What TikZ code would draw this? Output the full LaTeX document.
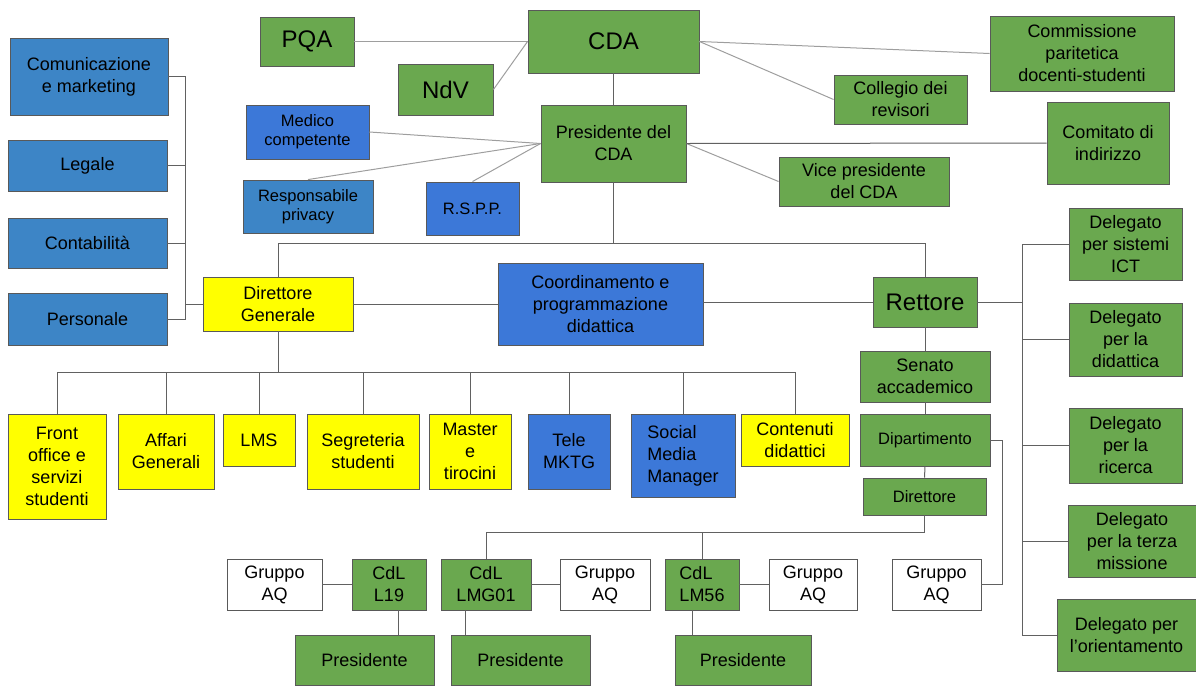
\documentclass[tikz,border=0pt]{standalone}
\usepackage{fontspec}
\setmainfont{Liberation Sans}
\definecolor{cverde}{HTML}{6AA84F}
\definecolor{cblu}{HTML}{3D85C6}
\definecolor{cblus}{HTML}{3C78D8}
\definecolor{cgiallo}{HTML}{FFFF00}

\begin{document}
\begin{tikzpicture}[x=1pt, y=-1pt,
    sz/.style 2 args={minimum width=#1pt, minimum height=#2pt},
    nbox/.style={draw=black!65, line width=0.9pt, inner sep=0pt, align=center,
        font=\fontsize{18}{22}\selectfont},
    gbox/.style={nbox, fill=cverde},
    bbox/.style={nbox, fill=cblu},
    dbox/.style={nbox, fill=cblus},
    ybox/.style={nbox, fill=cgiallo},
    wbox/.style={nbox, fill=white},
    bigtext/.style={font=\fontsize{24}{28}\selectfont},
    smalltext/.style={font=\fontsize{16.5}{19}\selectfont},
    conn/.style={draw=black!62, line width=1pt},
    soft/.style={draw=black!38, line width=1pt}]
    \useasboundingbox (0,0) rectangle (1196,686);

    % vertici
    \node[gbox, bigtext, sz={94}{49}] (pqa) at (307,41.5) {PQA};
    \node[gbox, bigtext, sz={171}{63}] (cda) at (613.5,41.5) {CDA};
    \node[gbox, bigtext, sz={95}{51}] (ndv) at (445.5,89.5) {NdV};
    \node[gbox, sz={184}{75}] (cpds) at (1082,53.5) {Commissione\\paritetica\\docenti-studenti};
    \node[gbox, sz={133}{49}] (revisori) at (900.5,99.5) {Collegio dei\\revisori};
    \node[dbox, smalltext, sz={123}{54}] (medico) at (307.5,132) {Medico\\competente};
    \node[gbox, sz={145}{77}] (pres) at (613.5,143.5) {Presidente del\\CDA};
    \node[gbox, sz={122}{82}] (comitato) at (1108,143) {Comitato di\\indirizzo};
    \node[bbox, smalltext, sz={130}{53}] (privacy) at (308,206.5) {Responsabile\\privacy};
    \node[dbox, smalltext, sz={93}{53}] (rspp) at (472.5,208.5) {R.S.P.P.};
    \node[gbox, sz={170}{49}] (vice) at (864,181.5) {Vice presidente\\del CDA};

    % colonna sinistra
    \node[bbox, sz={158}{77}] (comm) at (89,76.5) {Comunicazione\\e marketing};
    \node[bbox, sz={159}{51}] (legale) at (87.5,165.5) {Legale};
    \node[bbox, sz={159}{50}] (contab) at (87.5,243) {Contabilità};
    \node[bbox, sz={159}{52}] (personale) at (87.5,319) {Personale};

    \node[ybox, sz={150}{54}] (dg) at (278,304) {Direttore\\Generale};
    \node[dbox, sz={205}{82}] (coord) at (600.5,304) {Coordinamento e\\programmazione\\didattica};
    \node[gbox, bigtext, sz={104}{50}] (rettore) at (925,302) {Rettore};

    % delegati
    \node[gbox, sz={113}{72}] (ict) at (1125.5,244) {Delegato\\per sistemi\\ICT};
    \node[gbox, sz={113}{73}] (did) at (1125.5,339.5) {Delegato\\per la\\didattica};
    \node[gbox, sz={113}{75}] (ric) at (1125.5,445.5) {Delegato\\per la\\ricerca};
    \node[gbox, sz={128}{72}] (terza) at (1132,541) {Delegato\\per la terza\\missione};
    \node[gbox, sz={139}{72}] (orient) at (1126.5,635) {Delegato per\\l'orientamento};

    \node[gbox, sz={130}{51}] (senato) at (925,376.5) {Senato\\accademico};
    \node[gbox, smalltext, sz={130}{52}] (dip) at (925,440) {Dipartimento};
    \node[gbox, smalltext, sz={123}{37}] (direttore) at (924.5,496.5) {Direttore};

    % uffici
    \node[ybox, sz={98}{105}] (front) at (57,466.5) {Front\\office e\\servizi\\studenti};
    \node[ybox, sz={96}{75}] (affari) at (166,451.5) {Affari\\Generali};
    \node[ybox, sz={72}{52}] (lms) at (259,440) {LMS};
    \node[ybox, sz={112}{75}] (segreteria) at (363,451.5) {Segreteria\\studenti};
    \node[ybox, sz={82}{75}] (master) at (470,451.5) {Master\\e\\tirocini};
    \node[dbox, sz={82}{75}] (tele) at (569,451.5) {Tele\\MKTG};
    \node[dbox, align=left, sz={104}{83}] (smm) at (683,455.5) {Social\\Media\\Manager};
    \node[ybox, sz={108}{52}] (contenuti) at (795,440) {Contenuti\\didattici};

    % corsi di laurea
    \node[wbox, sz={95}{51}] (aq1) at (274.5,584.5) {Gruppo\\AQ};
    \node[gbox, sz={74}{51}] (l19) at (389,584.5) {CdL\\L19};
    \node[gbox, sz={90}{51}] (lmg) at (486,584.5) {CdL\\LMG01};
    \node[wbox, sz={90}{51}] (aq2) at (605,584.5) {Gruppo\\AQ};
    \node[gbox, align=left, sz={74}{51}] (lm56) at (702,584.5) {CdL\\LM56};
    \node[wbox, sz={88}{51}] (aq3) at (813,584.5) {Gruppo\\AQ};
    \node[wbox, sz={89}{51}] (aq4) at (936.5,584.5) {Gruppo\\AQ};
    \node[gbox, sz={139}{50}] (pres1) at (364.5,660) {Presidente};
    \node[gbox, sz={139}{50}] (pres2) at (520.5,660) {Presidente};
    \node[gbox, sz={136}{50}] (pres3) at (743,660) {Presidente};

    \draw[soft]
    (pqa.east) edge (cda.west)
    (ndv.east) edge (cda.west)
    (cda.east) edge (cpds.west)
    (cda.east) edge (revisori.west)
    (medico.east) edge (pres.west)
    (privacy.north) edge (pres.west)
    (rspp.north) edge (pres.west)
    (pres.east) edge (vice.west);
    \draw[conn]
    (cda.south) edge (pres.north)
    (pres.east) edge (comitato.west)
    (dg.east) edge (coord.west)
    (coord.east |- rettore.west) edge (rettore.west)
    (rettore.south) edge (senato.north)
    (senato.south) edge (dip.north)
    (dip.south) edge (direttore.north)
    (aq1.east) edge (l19.west)
    (lmg.east) edge (aq2.west)
    (lm56.east) edge (aq3.west);

    \coordinate (pbus) at (613.5,243);
    \draw[conn] (pres.south) -- (pbus) -| (dg.north);
    \draw[conn] (pbus) -| (rettore.north);

    \coordinate (lbus) at (185,304);
    \draw[conn] (dg.west) -- (lbus);
    \foreach \b in {comm,legale,contab,personale}
        \draw[conn] (lbus) |- (\b.east);

    \coordinate (dbus) at (278,372);
    \draw[conn] (dg.south) -- (dbus);
    \foreach \c in {front,affari,lms,segreteria,master,tele,smm,contenuti}
        \draw[conn] (dbus) -| (\c.north);

    \coordinate (rbus) at (1022,302);
    \draw[conn] (rettore.east) -- (rbus);
    \foreach \d in {ict,did,ric,terza,orient}
        \draw[conn] (rbus) |- (\d.west);

    \coordinate (cbus) at (924.5,532);
    \draw[conn] (direttore.south) -- (cbus) -| (lmg.north);
    \draw[conn] (cbus) -| (lm56.north);

    \coordinate (dcorner) at (1002,440);
    \draw[conn] (dip.east) -- (dcorner) |- (aq4.east);

    \draw[conn] ([xshift=9pt]l19.south) -- ([xshift=9pt]l19.south |- pres1.north);
    \draw[conn] ([xshift=-21pt]lmg.south) -- ([xshift=-21pt]lmg.south |- pres2.north);
    \draw[conn] ([xshift=-10pt]lm56.south) -- ([xshift=-10pt]lm56.south |- pres3.north);

\end{tikzpicture}
\end{document}
